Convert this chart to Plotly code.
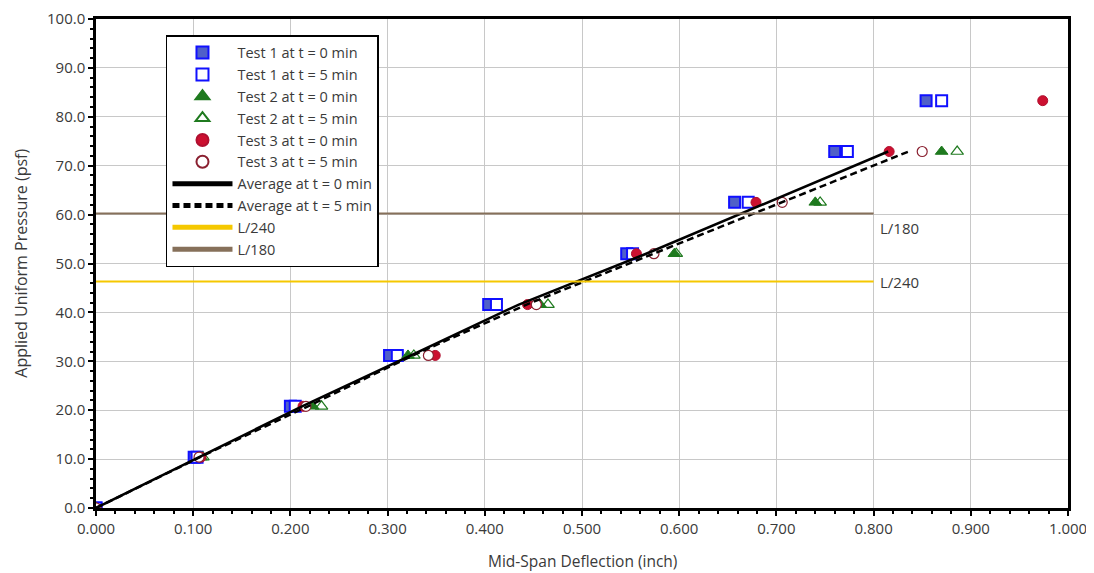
import plotly.graph_objects as go

pressure = [0.0, 10.4, 20.8, 31.2, 41.6, 52.0, 62.5, 72.9, 83.3]
pressure_avg = [0.0, 10.4, 20.8, 31.2, 41.6, 52.0, 62.5, 72.9]

test1_t0 = [0.000, 0.101, 0.200, 0.302, 0.404, 0.546, 0.657, 0.760, 0.854]
test1_t5 = [0.000, 0.104, 0.205, 0.310, 0.412, 0.552, 0.671, 0.773, 0.870]
test2_t0 = [0.000, 0.108, 0.223, 0.321, 0.457, 0.595, 0.740, 0.870]
test2_t5 = [0.000, 0.110, 0.232, 0.327, 0.465, 0.597, 0.745, 0.886]
test3_t0 = [0.000, 0.108, 0.213, 0.349, 0.444, 0.556, 0.679, 0.816, 0.974]
test3_t5 = [0.000, 0.106, 0.216, 0.342, 0.453, 0.574, 0.706, 0.850]

avg_t0 = [0.000, 0.106, 0.212, 0.324, 0.435, 0.566, 0.692, 0.815]
avg_t5 = [0.000, 0.107, 0.218, 0.326, 0.443, 0.574, 0.707, 0.836]

limit_x = [0.0, 0.80]
l240 = 46.3
l180 = 60.2

x_ticks = [0.0, 0.1, 0.2, 0.3, 0.4, 0.5, 0.6, 0.7, 0.8, 0.9, 1.0]
x_labels = ["0.000", "0.100", "0.200", "0.300", "0.400", "0.500", "0.600", "0.700", "0.800", "0.900", "1.000"]
y_ticks = [0, 10, 20, 30, 40, 50, 60, 70, 80, 90, 100]
y_labels = ["0.0", "10.0", "20.0", "30.0", "40.0", "50.0", "60.0", "70.0", "80.0", "90.0", "100.0"]

FONT = "Open Sans, Liberation Sans, Arial, sans-serif"
TXT = "#3a3a3a"

fig = go.Figure()

fig.add_trace(go.Scatter(x=test1_t0, y=pressure[:len(test1_t0)], mode="markers",
                         name="Test 1 at t = 0 min",
                         marker=dict(symbol="square", size=11, color="#5060c8",
                                     line=dict(color="#1010ff", width=2))))
fig.add_trace(go.Scatter(x=test1_t5, y=pressure[:len(test1_t5)], mode="markers",
                         name="Test 1 at t = 5 min",
                         marker=dict(symbol="square", size=11, color="white",
                                     line=dict(color="#1010ff", width=2))))
fig.add_trace(go.Scatter(x=test2_t0, y=pressure[:len(test2_t0)], mode="markers",
                         name="Test 2 at t = 0 min",
                         marker=dict(symbol="triangle-up", size=11, color="#1f7a1f",
                                     line=dict(color="#1f7a1f", width=1))))
fig.add_trace(go.Scatter(x=test2_t5, y=pressure[:len(test2_t5)], mode="markers",
                         name="Test 2 at t = 5 min",
                         marker=dict(symbol="triangle-up-open", size=11, color="#1f7a1f",
                                     line=dict(color="#1f7a1f", width=1.2))))
fig.add_trace(go.Scatter(x=test3_t0, y=pressure[:len(test3_t0)], mode="markers",
                         name="Test 3 at t = 0 min",
                         marker=dict(symbol="circle", size=10, color="#cc1030",
                                     line=dict(color="#b01030", width=1))))
fig.add_trace(go.Scatter(x=test3_t5, y=pressure[:len(test3_t5)], mode="markers",
                         name="Test 3 at t = 5 min",
                         marker=dict(symbol="circle", size=10, color="white",
                                     line=dict(color="#8a2030", width=1.2))))
fig.add_trace(go.Scatter(x=avg_t0, y=pressure_avg, mode="lines",
                         name="Average at t = 0 min",
                         line=dict(color="black", width=2.5)))
fig.add_trace(go.Scatter(x=avg_t5, y=pressure_avg, mode="lines",
                         name="Average at t = 5 min",
                         line=dict(color="black", width=2.5, dash="7px,4px")))
fig.add_trace(go.Scatter(x=limit_x, y=[l240, l240], mode="lines",
                         name="L/240",
                         line=dict(color="#f5c800", width=2)))
fig.add_trace(go.Scatter(x=limit_x, y=[l180, l180], mode="lines",
                         name="L/180",
                         line=dict(color="#86705a", width=2)))

fig.add_annotation(x=limit_x[1], y=l180, text="L/180", showarrow=False,
                   xanchor="left", yanchor="top", xshift=4, yshift=-2,
                   font=dict(family=FONT, size=15, color=TXT))
fig.add_annotation(x=limit_x[1], y=l240, text="L/240", showarrow=False,
                   xanchor="left", yanchor="middle", xshift=4,
                   font=dict(family=FONT, size=15, color=TXT))

# axis titles as paper annotations for exact placement
fig.add_annotation(xref="paper", yref="paper", x=0.5, y=-0.108, yanchor="middle",
                   text="Mid-Span Deflection (inch)", showarrow=False,
                   font=dict(family=FONT, size=15.5, color=TXT))
fig.add_annotation(xref="paper", yref="paper", x=-0.078, y=0.5, xanchor="center",
                   text="Applied Uniform Pressure (psf)", showarrow=False, textangle=-90,
                   font=dict(family=FONT, size=16, color=TXT))

fig.update_layout(
    width=1086, height=565,
    margin=dict(l=88, r=26, t=11, b=65, autoexpand=False),
    paper_bgcolor="white", plot_bgcolor="white",
    font=dict(family=FONT, size=15, color=TXT),
    showlegend=True,
    legend=dict(x=0.072, y=0.967, xanchor="left", yanchor="top",
                bgcolor="white", bordercolor="black", borderwidth=1.5,
                font=dict(family=FONT, size=14.5, color=TXT),
                tracegroupgap=0, itemsizing="constant", itemwidth=60),
)
fig.update_xaxes(range=[0, 1.0], tickvals=x_ticks, ticktext=x_labels,
                 automargin=False,
                 showgrid=True, gridcolor="#c8c8c8", gridwidth=1,
                 showline=True, linecolor="black", linewidth=2.5, mirror=True,
                 ticks="outside", ticklen=5, tickwidth=2, tickcolor="black",
                 tickfont=dict(family=FONT, size=15, color=TXT),
                 minor=dict(dtick=0.02, ticks="outside", ticklen=3, tickwidth=1.5,
                            tickcolor="black", showgrid=False),
                 zeroline=False)
fig.update_yaxes(range=[0, 100], tickvals=y_ticks, ticktext=y_labels,
                 automargin=False,
                 showgrid=True, gridcolor="#c8c8c8", gridwidth=1,
                 showline=True, linecolor="black", linewidth=2.5, mirror=True,
                 ticks="outside", ticklen=5, tickwidth=2, tickcolor="black",
                 tickfont=dict(family=FONT, size=15, color=TXT),
                 minor=dict(dtick=2, ticks="outside", ticklen=3, tickwidth=1.5,
                            tickcolor="black", showgrid=False),
                 zeroline=False)

fig.write_html("out.html")
